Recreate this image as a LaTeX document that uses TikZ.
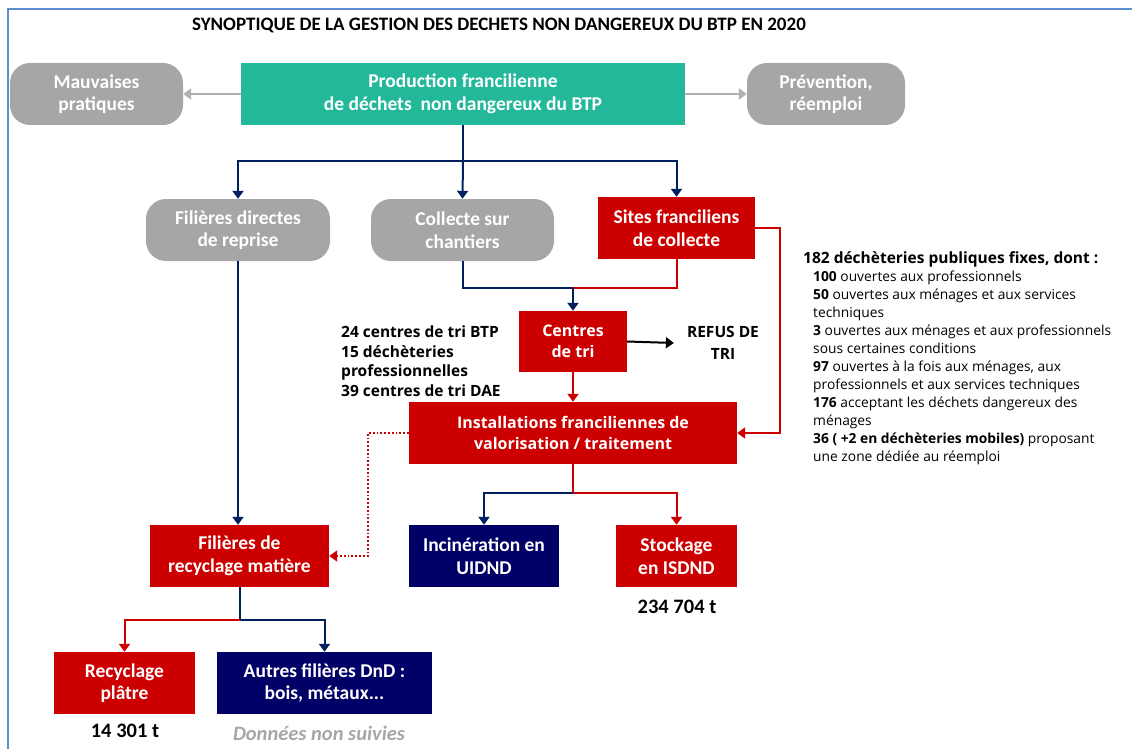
\documentclass[tikz,border=0pt]{standalone}
\usepackage{fontspec}
\setmainfont{Carlito}
\newfontfamily\segoe{Open Sans}
\usetikzlibrary{arrows.meta}
\definecolor{tealbox}{RGB}{36,184,154}
\definecolor{graybox}{RGB}{166,166,166}
\definecolor{redbox}{RGB}{204,0,0}
\definecolor{navybox}{RGB}{0,0,102}
\definecolor{navyline}{RGB}{0,32,96}
\definecolor{frameblue}{RGB}{91,142,207}
\definecolor{grayline}{RGB}{176,176,176}
\definecolor{graytext}{RGB}{166,166,166}
\tikzset{
  boxtext/.style={text=white, font=\fontsize{19.5}{22.5}\selectfont\bfseries, align=center, inner sep=0pt},
  tealnode/.style={boxtext, fill=tealbox},
  graynode/.style={boxtext, fill=graybox, rounded corners=20pt},
  rednode/.style={boxtext, fill=redbox},
  navynode/.style={boxtext, fill=navybox},
  tip/.style={-{Triangle[width=11pt,length=8pt]}},
  navyconn/.style={draw=navyline, line width=2pt},
  redconn/.style={draw=redbox, line width=2pt},
  navyarrow/.style={navyconn, tip},
  redarrow/.style={redconn, tip},
  grayarrow/.style={draw=grayline, line width=2.5pt, tip},
  blackarrow/.style={draw=black, line width=2pt, tip},
  dottedarrow/.style={draw=redbox, line width=1.8pt, dotted, -{Triangle[width=11pt,length=8pt]}},
  plain/.style={font=\fontsize{20.5}{24}\selectfont\bfseries, inner sep=0pt},
  segoetext/.style={font=\segoe\fontsize{15.5}{19.5}\selectfont\bfseries, inner sep=0pt}
}
\begin{document}
\begin{tikzpicture}[x=1pt,y=-1pt]
\useasboundingbox (0,0) rectangle (1132,749);
% frame
\draw[frameblue, line width=2pt] (7.5,749) -- (7.5,9.5) -- (1132,9.5);
% title
\node[font=\fontsize{19}{22}\selectfont\bfseries, inner sep=0pt] (title) at (499,25) {SYNOPTIQUE DE LA GESTION DES DECHETS NON DANGEREUX DU BTP EN 2020};
% boxes
\node[tealnode, minimum width=444pt, minimum height=62pt] (prod) at (463,94) {Production francilienne\\de déchets\ \ non dangereux du BTP};
\node[graynode, minimum width=173pt, minimum height=62pt] (mauv) at (96.5,94) {Mauvaises\\pratiques};
\node[graynode, minimum width=158pt, minimum height=62pt] (prev) at (826,94) {Prévention,\\réemploi};
\node[graynode, minimum width=184pt, minimum height=62pt] (fdir) at (238,230) {Filières directes\\de reprise};
\node[graynode, minimum width=183pt, minimum height=62pt] (coll) at (462.5,230) {Collecte sur\\chantiers};
\node[rednode, minimum width=157pt, minimum height=62pt] (sites) at (676.5,228) {Sites franciliens\\de collecte};
\node[rednode, minimum width=108pt, minimum height=61pt, font=\segoe\fontsize{16}{21}\selectfont\bfseries] (ctri) at (573,341.5) {Centres\\de tri};
\node[rednode, minimum width=328pt, minimum height=62pt, font=\segoe\fontsize{16}{21}\selectfont\bfseries] (inst) at (573,433) {Installations franciliennes de\\valorisation / traitement};
\node[rednode, minimum width=179pt, minimum height=62pt] (frec) at (239.5,556) {Filières de\\recyclage matière};
\node[navynode, minimum width=150pt, minimum height=62pt] (inc) at (484,556) {Incinération en\\UIDND};
\node[rednode, minimum width=121pt, minimum height=62pt] (stock) at (676.5,556) {Stockage\\en ISDND};
\node[rednode, minimum width=141pt, minimum height=62pt] (rplat) at (124.5,683) {Recyclage\\plâtre};
\node[navynode, minimum width=215pt, minimum height=62pt] (autres) at (324.5,683) {Autres filières DnD :\\bois, métaux...};
% texts
\node[segoetext, align=center, inner xsep=13pt, font=\segoe\fontsize{15.5}{22}\selectfont\bfseries] (refus) at (723,343) {REFUS DE\\TRI};
\node[segoetext, align=left, anchor=west] (ctrtext) at (341,361) {24 centres de tri BTP\\15 déchèteries\\professionnelles\\39 centres de tri DAE};
\node[plain] (qstock) at (677,607) {234 704 t};
\node[plain] (qplat) at (125,731) {14 301 t};
\node[plain, text=graytext, font=\fontsize{20.5}{24}\selectfont\bfseries\itshape] (nonsuiv) at (319,733) {Données non suivies};
\node[font=\segoe\fontsize{15.5}{18}\selectfont\bfseries, inner sep=0pt, anchor=west] (dechhead) at (803,259) {182 déchèteries publiques fixes, dont :};
\node[font=\segoe\fontsize{13.8}{18}\selectfont, inner sep=0pt, anchor=north west, align=left] (dechlist) at (813,271) {\textbf{100} ouvertes aux professionnels\\
\textbf{50} ouvertes aux ménages et aux services\\techniques\\
\textbf{3} ouvertes aux ménages et aux professionnels\\sous certaines conditions\\
\textbf{97} ouvertes à la fois aux ménages, aux\\professionnels et aux services techniques\\
\textbf{176} acceptant les déchets dangereux des\\ménages\\
\textbf{36 ( +2 en déchèteries mobiles)} proposant\\une zone dédiée au réemploi};
% connectors
\coordinate (j1) at (463,161);
\coordinate (j2) at (573,288);
\coordinate (j3) at (573,493);
\coordinate (j4) at (239.5,620);
\draw[grayarrow] (prod.west) -- (mauv.east);
\draw[grayarrow] (prod.east) -- (prev.west);
\draw[navyconn] (prod.south) -- (j1);
\draw[navyarrow] (j1) -| (fdir.north);
\draw[navyarrow] (j1) -- (coll.north);
\draw[navyarrow] (j1) -| (sites.north);
\draw[navyconn] (coll.south) |- (j2);
\draw[redconn] (sites.south) |- (j2);
\draw[navyarrow] (j2) -- (ctri.north);
\draw[redarrow] (sites.east) -- ++(25,0) |- (inst.east);
\draw[blackarrow] (ctri.east) -- (refus.west);
\draw[redarrow] (ctri.south) -- (inst.north);
\draw[dottedarrow] (inst.west) -- ++(-41,0) |- (frec.east);
\draw[navyarrow] (fdir.south) -- (fdir.south |- frec.north);
\draw[redconn] (inst.south) -- (j3);
\draw[navyarrow] (j3) -| (inc.north);
\draw[redarrow] (j3) -| (stock.north);
\draw[navyconn] (frec.south) -- (j4);
\draw[redarrow] (j4) -| (rplat.north);
\draw[navyarrow] (j4) -| (autres.north);
\end{tikzpicture}
\end{document}
